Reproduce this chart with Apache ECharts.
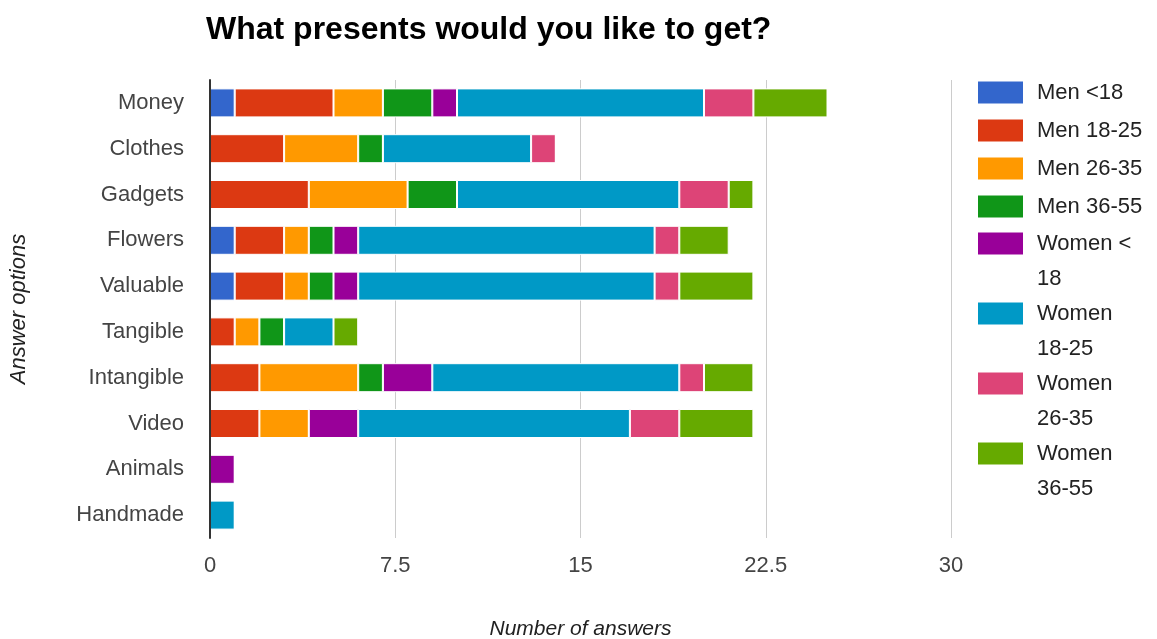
<!DOCTYPE html>
<html>
<head>
<meta charset="utf-8">
<script src="https://cdn.jsdelivr.net/npm/echarts@6/dist/echarts.min.js"></script>
<style>html,body{margin:0;padding:0;background:#fff}#c{width:1157px;height:639px}</style>
</head>
<body>
<div id="c"></div>
<script>
const categories = ['Money','Clothes','Gadgets','Flowers','Valuable','Tangible','Intangible','Video','Animals','Handmade'];
const seriesNames = ['Men <18','Men 18-25','Men 26-35','Men 36-55','Women < 18','Women 18-25','Women 26-35','Women 36-55'];
const men_u18   = [1,0,0,1,1,0,0,0,0,0];
const men_18_25 = [4,3,4,2,2,1,2,2,0,0];
const men_26_35 = [2,3,4,1,1,1,4,2,0,0];
const men_36_55 = [2,1,2,1,1,1,1,0,0,0];
const women_u18   = [1,0,0,1,1,0,2,2,1,0];
const women_18_25 = [10,6,9,12,12,2,10,11,0,1];
const women_26_35 = [2,1,2,1,1,0,1,2,0,0];
const women_36_55 = [3,0,1,2,3,1,2,3,0,0];
const xTicks = [0, 7.5, 15, 22.5, 30];

const seriesData = [men_u18, men_18_25, men_26_35, men_36_55, women_u18, women_18_25, women_26_35, women_36_55];
const colors = ['#3366cc','#dc3912','#ff9900','#109618','#990099','#0099c6','#dd4477','#66aa00'];
const FONT = "'Liberation Sans', Arial, sans-serif";

const chart = echarts.init(document.getElementById('c'));
const menIcon = 'path://M0,0L47,0L47,24L0,24Z M55,0L55,24';
const womenIcon = 'path://M0,0L47,0L47,24L0,24Z M55,0L55,59';

chart.setOption({
  animation: false,
  color: colors,
  title: {
    text: 'What presents would you like to get?',
    left: 206, top: 14, padding: 0,
    textStyle: { fontFamily: FONT, fontSize: 32, fontWeight: 'bold', color: '#000' }
  },
  legend: [
    {
      orient: 'vertical', left: 976, top: 76, padding: 0,
      itemWidth: 55, itemHeight: 24, itemGap: 5,
      data: seriesNames.slice(0,4).map(n => ({ name: n, icon: menIcon })),
      textStyle: { fontFamily: FONT, fontSize: 22, color: '#222', lineHeight: 33 }
    },
    {
      orient: 'vertical', left: 976, top: 226, padding: 0,
      itemWidth: 55, itemHeight: 59, itemGap: 0,
      data: seriesNames.slice(4).map(n => ({ name: n, icon: womenIcon })),
      formatter: n => n.replace(' ', '\n').replace('\n< 18', '\n18').replace(/^Women\n18$/, 'Women <\n18'),
      textStyle: { fontFamily: FONT, fontSize: 22, color: '#222', lineHeight: 35 }
    }
  ],
  grid: { left: 210, right: 206, top: 80, bottom: 101, containLabel: false, outerBoundsMode: 'none' },
  xAxis: {
    type: 'value', min: xTicks[0], max: xTicks[xTicks.length-1], interval: 7.5,
    name: 'Number of answers', nameLocation: 'middle', nameGap: 81,
    nameTextStyle: { fontFamily: FONT, fontSize: 21, fontStyle: 'italic', color: '#222' },
    axisLine: { show: false }, axisTick: { show: false },
    axisLabel: { fontFamily: FONT, fontSize: 22, color: '#444', margin: 17 },
    splitLine: { show: true, lineStyle: { color: '#cccccc', width: 1 } }
  },
  yAxis: {
    type: 'category', data: categories, inverse: true, z: 5,
    name: 'Answer options', nameLocation: 'middle', nameGap: 180,
    nameTextStyle: { fontFamily: FONT, fontSize: 22, fontStyle: 'italic', color: '#222' },
    axisLine: { show: true, lineStyle: { color: '#333', width: 2 } },
    axisTick: { show: false },
    axisLabel: { fontFamily: FONT, fontSize: 22, color: '#444', margin: 26 }
  },
  series: seriesNames.map((n, i) => ({
    name: n, type: 'bar', stack: 'total', data: seriesData[i],
    barWidth: 29,
    itemStyle: { borderColor: '#fff', borderWidth: 1 }
  }))
});
</script>
</body>
</html>
